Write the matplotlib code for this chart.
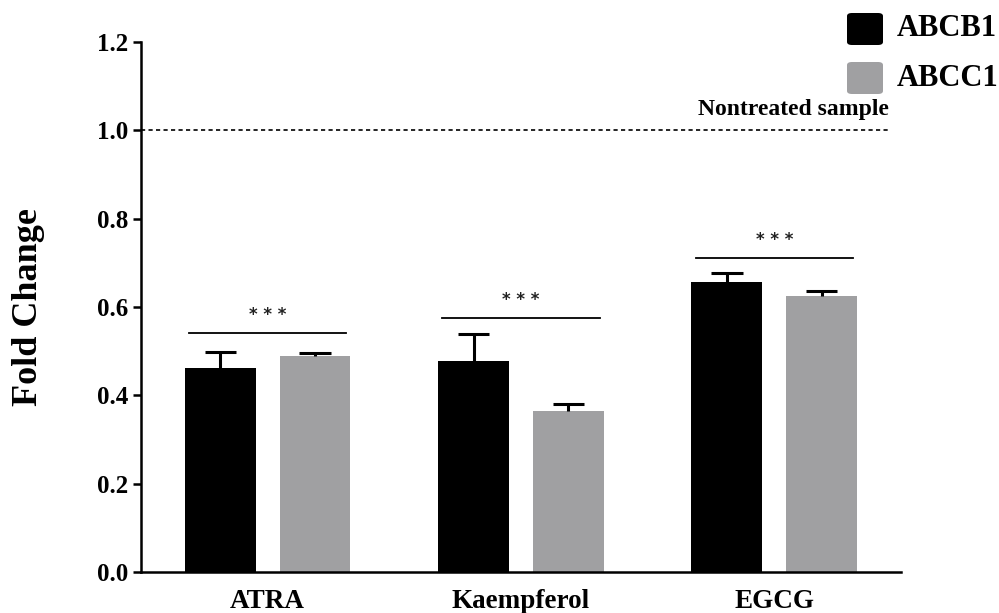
import numpy as np
import matplotlib
matplotlib.use("Agg")
import matplotlib.pyplot as plt
from matplotlib.patches import FancyBboxPatch

plt.rcParams['font.family'] = ['Liberation Serif', 'DejaVu Serif']
plt.rcParams['font.weight'] = 'bold'

# fold change relative to nontreated sample
drugs = ['ATRA', 'Kaempferol', 'EGCG']
abcb1 = [0.461, 0.478, 0.656]
abcb1_err = [0.036, 0.060, 0.020]
abcc1 = [0.490, 0.365, 0.626]
abcc1_err = [0.006, 0.016, 0.011]
sig_height = [0.540, 0.574, 0.710]
sig_text = ['* * *', '* * *', '* * *']

black = '#000000'
grey = '#a0a0a2'

fig = plt.figure(figsize=(9.99, 6.13), dpi=100)
ax = fig.add_axes([0.1411, 0.0669, 0.7608, 0.8646])

x = np.arange(len(drugs))
w = 0.28
off = 0.187
cap = 0.062

def upper_err(xs, ys, errs):
    # one-sided error bars: stem from the bar top up to a cap
    tops = np.array(ys) + np.array(errs)
    ax.vlines(xs, ys, tops, color=black, lw=2.2, zorder=3)
    ax.hlines(tops, xs - cap, xs + cap, color=black, lw=2.2, zorder=3)

ax.bar(x - off, abcb1, w, color=black, zorder=2)
ax.bar(x + off, abcc1, w, color=grey, zorder=2)
upper_err(x - off, abcb1, abcb1_err)
upper_err(x + off, abcc1, abcc1_err)

# significance bars
for i, (h, s) in enumerate(zip(sig_height, sig_text)):
    ax.plot([i - 0.31, i + 0.31], [h, h], color=black, lw=1.3)
    ax.text(i, h + 0.022, s, ha='center', va='bottom', fontsize=12,
            family='DejaVu Sans', color='#222222')

# nontreated reference line
ax.plot([-0.5, 2.453], [1.0, 1.0], color=black, lw=1.2,
        linestyle=(0, (2.5, 2)))
ax.text(2.453, 1.035, 'Nontreated sample', ha='right', va='baseline',
        fontsize=17)

ax.set_xlim(-0.5, 2.5)
ax.set_ylim(0, 1.2)
ax.set_yticks(np.arange(0, 1.21, 0.2))
ax.set_yticklabels(['%.1f' % v for v in np.arange(0, 1.21, 0.2)])
ax.set_xticks(x)
ax.set_xticklabels(drugs)
ax.tick_params(axis='y', length=6, width=1.8, labelsize=18, pad=3)
ax.tick_params(axis='x', length=0, labelsize=19.5, pad=12)
for lab in ax.get_xticklabels() + ax.get_yticklabels():
    lab.set_fontweight('bold')

ax.spines['top'].set_visible(False)
ax.spines['right'].set_visible(False)
ax.spines['left'].set_linewidth(1.8)
ax.spines['bottom'].set_linewidth(1.8)

ax.set_ylabel('Fold Change', fontsize=26, fontweight='bold')
ax.yaxis.set_label_coords(-0.126, 0.5)

# legend swatches
names = ['ABCB1', 'ABCC1']
colors = [black, grey]
for k, (n, c) in enumerate(zip(names, colors)):
    y0 = 1 - (45 + 49 * k) / 613
    sq = FancyBboxPatch((847 / 999, y0), 36 / 999, 32 / 613,
                        boxstyle='round,pad=0,rounding_size=0.005',
                        transform=fig.transFigure, facecolor=c,
                        edgecolor='none')
    fig.patches.append(sq)
    fig.text(897 / 999, y0 + 16 / 613, n, fontsize=22, fontweight='bold',
             va='center', ha='left')

fig.savefig('out.png', dpi=100)
